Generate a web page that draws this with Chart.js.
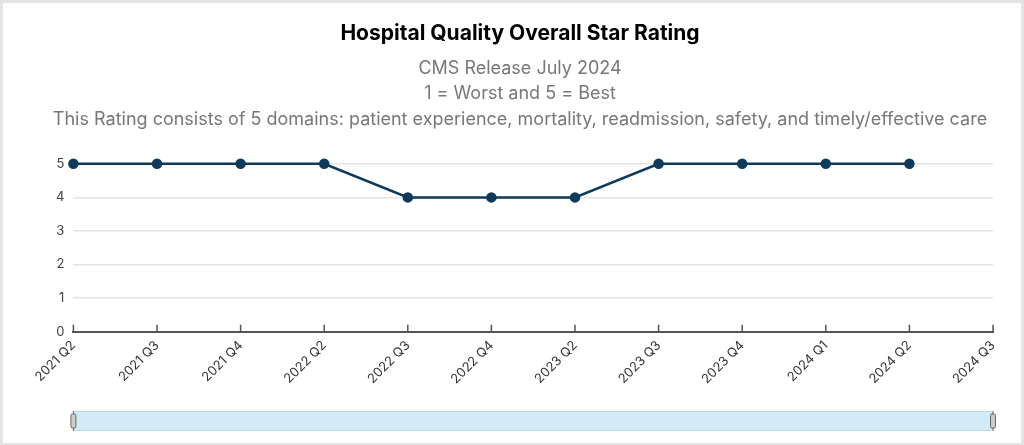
<!DOCTYPE html>
<html>
<head>
<meta charset="utf-8">
<script src="https://cdn.jsdelivr.net/npm/chart.js@4/dist/chart.umd.min.js"></script>
<style>
  html, body { margin: 0; padding: 0; background: #e4e4e4; }
  #wrap { position: absolute; left: 3px; top: 3px; width: 1018px; height: 440px; background: #fff; }
  canvas { display: block; }
</style>
</head>
<body>
<div id="wrap"><canvas id="c" width="1018" height="440"></canvas></div>
<script>
const categories = ["2021 Q2","2021 Q3","2021 Q4","2022 Q2","2022 Q3","2022 Q4","2023 Q2","2023 Q3","2023 Q4","2024 Q1","2024 Q2","2024 Q3"];
const ratings = [5,5,5,5,4,4,4,5,5,5,5,null];
const titleText = "Hospital Quality Overall Star Rating";
const subtitleLines = ["CMS Release July 2024","1 = Worst and 5 = Best","This Rating consists of 5 domains: patient experience, mortality, readmission, safety, and timely/effective care"];
const yTicks = [0,1,2,3,4,5];

const extras = {
  id: 'extras',
  afterDraw(chart) {
    const ctx = chart.ctx;
    const xs = chart.scales.x;
    const bottom = chart.chartArea.bottom;
    ctx.save();
    ctx.strokeStyle = '#555';
    ctx.lineWidth = 1.5;
    xs.ticks.forEach((t, i) => {
      const x = xs.getPixelForTick(i);
      ctx.beginPath();
      ctx.moveTo(x, bottom - 7);
      ctx.lineTo(x, bottom);
      ctx.stroke();
    });
    const l = xs.left, r = xs.right;
    const top = 408, h = 20;
    ctx.fillStyle = '#d3ebf6';
    ctx.fillRect(l, top, r - l, h);
    ctx.strokeStyle = '#bcd9e8';
    ctx.lineWidth = 1;
    ctx.strokeRect(l + 0.5, top + 0.5, r - l - 1, h - 1);
    [l, r].forEach(x => {
      ctx.strokeStyle = '#666';
      ctx.lineWidth = 1;
      ctx.beginPath();
      ctx.moveTo(x, top);
      ctx.lineTo(x, top + h);
      ctx.stroke();
      ctx.fillStyle = '#ccc';
      ctx.beginPath();
      ctx.roundRect(x - 2.5, top + 3, 5, h - 6, 1.5);
      ctx.fill();
      ctx.stroke();
    });
    ctx.restore();
  }
};

new Chart(document.getElementById('c'), {
  type: 'line',
  data: {
    labels: categories,
    datasets: [{
      data: ratings,
      borderColor: '#0e3a5c',
      backgroundColor: '#0e3a5c',
      borderWidth: 2.5,
      pointRadius: 4,
      pointHoverRadius: 4,
      tension: 0,
      spanGaps: false,
      clip: false
    }]
  },
  options: {
    responsive: false,
    animation: false,
    layout: { padding: { left: 44, right: 28, bottom: 50, top: 0 } },
    plugins: {
      legend: { display: false },
      tooltip: { enabled: false },
      title: {
        display: true,
        text: titleText,
        color: '#000',
        font: { family: 'Inter', size: 21, weight: 'bold' },
        padding: { top: 18, bottom: 10 }
      },
      subtitle: {
        display: true,
        text: subtitleLines,
        color: '#777',
        font: { family: 'Inter', size: 18, weight: 'normal', lineHeight: 1.4 },
        padding: { top: 0, bottom: 32 }
      }
    },
    scales: {
      x: {
        type: 'category',
        offset: false,
        grid: { display: true, drawOnChartArea: false, drawTicks: false },
        border: { display: true, color: '#555', width: 2 },
        ticks: {
          color: '#333',
          font: { family: 'Inter', size: 13 },
          maxRotation: 45,
          minRotation: 45,
          padding: 6,
          autoSkip: false
        }
      },
      y: {
        min: 0,
        max: 5,
        afterBuildTicks(scale) { scale.ticks = yTicks.map(v => ({ value: v })); },
        grid: { color: '#e4e4e4', lineWidth: 1.5, drawTicks: false },
        border: { display: false },
        ticks: {
          color: '#444',
          font: { family: 'Inter', size: 13 },
          padding: 9
        }
      }
    }
  },
  plugins: [extras]
});
</script>
</body>
</html>
